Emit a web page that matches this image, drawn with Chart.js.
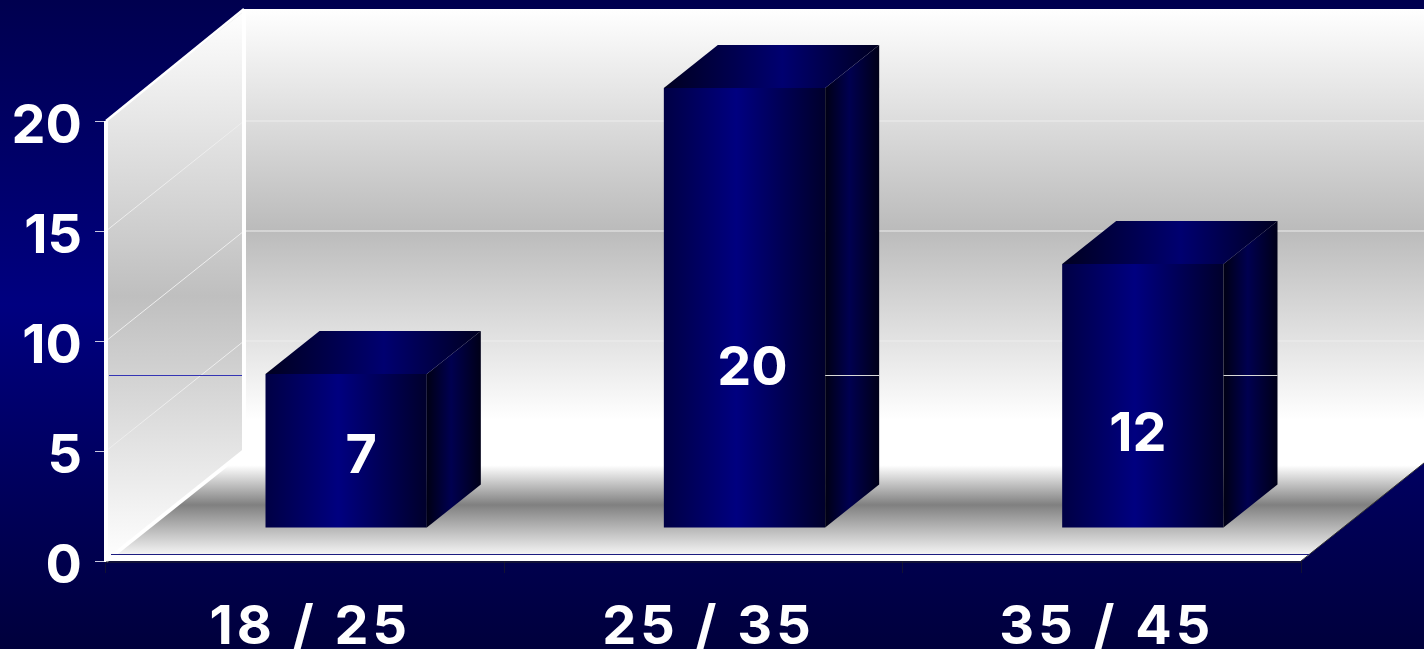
<!DOCTYPE html>
<html>
<head>
<meta charset="utf-8">
<title>Age groups</title>
<script src="https://cdn.jsdelivr.net/npm/chart.js@4"></script>
<style>
  html, body { margin: 0; padding: 0; background: #000050; overflow: hidden; }
  #wrap { width: 1424px; height: 649px; position: relative; }
</style>
</head>
<body>
<div id="wrap"><canvas id="chart" width="1424" height="649"></canvas></div>
<script>
// chart data
var categories = ["18 / 25", "25 / 35", "35 / 45"];
var bar_values = [7, 20, 12];
var y_ticks = [0, 5, 10, 15, 20];
var stray_level = 8.45; // the odd thin line running behind the bars

// 3d look
var wall_dx = 138, wall_dy = 110;  // depth of the box
var bar_dx = 41, bar_dy = 33;      // bars stand further in than the axis
var side_dx = 54, side_dy = 43;    // depth of one bar
var label_dx = [15, 8, -5], label_dy = [6, 61, 39]; // value labels sit off centre
var font_family = "Inter, 'Liberation Sans', sans-serif";
var font_size = 54;

function h_gradient(ctx, x0, x1, stops) {
  var g = ctx.createLinearGradient(x0, 0, x1, 0);
  stops.forEach(function (s) { g.addColorStop(s[0], s[1]); });
  return g;
}
function v_gradient(ctx, y0, y1, stops) {
  var g = ctx.createLinearGradient(0, y0, 0, y1);
  stops.forEach(function (s) { g.addColorStop(s[0], s[1]); });
  return g;
}
function poly(ctx, pts, fill) {
  ctx.beginPath();
  ctx.moveTo(pts[0][0], pts[0][1]);
  for (var i = 1; i < pts.length; i++) ctx.lineTo(pts[i][0], pts[i][1]);
  ctx.closePath();
  ctx.fillStyle = fill;
  ctx.fill();
}
function line(ctx, x0, y0, x1, y1, color, width) {
  ctx.beginPath();
  ctx.moveTo(x0, y0);
  ctx.lineTo(x1, y1);
  ctx.strokeStyle = color;
  ctx.lineWidth = width;
  ctx.stroke();
}

var background_plugin = {
  id: "background",
  beforeDraw: function (chart) {
    var ctx = chart.ctx;
    ctx.save();
    ctx.fillStyle = v_gradient(ctx, 0, chart.height, [[0, "#00004f"], [0.47, "#000080"], [1, "#00003c"]]);
    ctx.fillRect(0, 0, chart.width, chart.height);
    ctx.restore();
  },
  // x labels have z 1, so they are drawn after this: the original text is wider
  afterDatasetsDraw: function (chart) { chart.ctx.letterSpacing = "4px"; },
  afterDraw: function (chart) { chart.ctx.letterSpacing = "0px"; }
};

var box_plugin = {
  id: "box",
  beforeDatasetsDraw: function (chart) {
    var ctx = chart.ctx, y = chart.scales.y, x = chart.scales.x;
    var left = x.left, right = x.right, y0 = y.getPixelForValue(0), y20 = y.getPixelForValue(20);
    var back_left = left + wall_dx, back_top = y20 - wall_dy - 2, back_bottom = y0 - wall_dy;
    var wall_stops = [[0, "#ffffff"], [0.5, "#bbbbbb"], [0.93, "#ffffff"], [1, "#ffffff"]];
    ctx.save();
    // back wall
    ctx.fillStyle = v_gradient(ctx, back_top, back_bottom, wall_stops);
    ctx.fillRect(back_left, back_top, chart.width - back_left, back_bottom - back_top);
    // side wall
    poly(ctx, [[left, y20], [back_left, back_top], [back_left, back_bottom], [left, y0]],
      v_gradient(ctx, back_top, y0, [[0, "#ffffff"], [0.52, "#bfbfbf"], [1, "#ffffff"]]));
    // floor
    poly(ctx, [[left, y0], [back_left, back_bottom], [right + wall_dx, back_bottom], [right, y0]],
      v_gradient(ctx, back_bottom, y0, [[0, "#ffffff"], [0.13, "#ffffff"], [0.49, "#808080"], [0.94, "#f4f4f4"], [1, "#ffffff"]]));
    // grid lines on both walls
    y_ticks.forEach(function (v) {
      if (v === 0) return;
      var p = y.getPixelForValue(v);
      line(ctx, left, p, back_left, p - wall_dy, "#eeeeee", 1);
      if (v < 20) line(ctx, back_left, p - wall_dy, chart.width, p - wall_dy, "#eeeeee", 1.2);
    });
    poly(ctx, [[left + 8, y0 - 6], [right + 8, y0 - 6], [right, y0], [left, y0]], "#ffffff");
    // box edges
    line(ctx, left, y20, back_left, back_top, "#ffffff", 2.5);
    line(ctx, left, y0, back_left, back_bottom, "#ffffff", 4);
    line(ctx, left, y20, left, y0 + 1, "#ffffff", 4);
    line(ctx, back_left, back_top, back_left, back_bottom, "#ffffff", 4);
    line(ctx, left, y0 + 1, right, y0 + 1, "#222222", 1.2);
    line(ctx, right, y0, right + wall_dx, back_bottom, "#333333", 1);
    // thin blue lines
    var stray = Math.round(y.getPixelForValue(stray_level)) + 0.5;
    line(ctx, left + 3, stray, back_left - 2, stray, "#3434b4", 1);
    line(ctx, left + 5, y0 - 6.5, right + 8, y0 - 6.5, "#1c1c80", 1.2);
    ctx.restore();
  }
};

var bars_3d_plugin = {
  id: "bars3d",
  beforeDatasetDraw: function (chart) {
    // every bar is drawn by Chart.js, only moved into the box
    chart.ctx.save();
    chart.ctx.translate(bar_dx, -bar_dy);
  },
  afterDatasetDraw: function (chart, args) {
    var ctx = chart.ctx, meta = args.meta;
    meta.data.forEach(function (bar) {
      var l = bar.x - bar.width / 2, r = bar.x + bar.width / 2, t = bar.y, b = bar.base;
      poly(ctx, [[r, t], [r + side_dx, t - side_dy], [r + side_dx, b - side_dy], [r, b]],
        h_gradient(ctx, r, r + side_dx, [[0, "#000014"], [0.45, "#000050"], [1, "#000018"]]));
      poly(ctx, [[l, t], [l + side_dx, t - side_dy], [r + side_dx, t - side_dy], [r, t]],
        h_gradient(ctx, l, r + side_dx, [[0, "#000020"], [0.55, "#000070"], [1, "#000020"]]));
    });
    var stray = Math.round(chart.scales.y.getPixelForValue(stray_level)) + bar_dy + 0.5;
    meta.data.forEach(function (bar) {
      var r = bar.x + bar.width / 2;
      if (bar.y < stray - 3) line(ctx, r, stray, r + side_dx, stray, "#d8d8d8", 1.2);
    });
    ctx.fillStyle = "#ffffff";
    ctx.font = "700 " + font_size + "px " + font_family;
    ctx.textAlign = "center";
    ctx.textBaseline = "middle";
    meta.data.forEach(function (bar, i) {
      ctx.fillText(String(bar_values[i]), bar.x + label_dx[i], (bar.y + bar.base) / 2 + label_dy[i]);
    });
    ctx.restore();
  }
};

function bar_fill(c) {
  var x = c.chart.scales.x;
  if (!x || !isFinite(x.width) || c.dataIndex === undefined) return "#000080";
  var half = x.width / categories.length * 0.2;
  var mid = x.getPixelForValue(c.dataIndex);
  if (!isFinite(mid)) return "#000080";
  return h_gradient(c.chart.ctx, mid - half, mid + half, [[0, "#000045"], [0.45, "#000080"], [1, "#00002c"]]);
}

var chart = new Chart(document.getElementById("chart").getContext("2d"), {
  type: "bar",
  data: {
    labels: categories,
    datasets: [{
      data: bar_values,
      backgroundColor: bar_fill,
      borderWidth: 0,
      barPercentage: 0.405,
      categoryPercentage: 1,
      clip: false
    }]
  },
  options: {
    responsive: false,
    animation: false,
    layout: { padding: { top: 121, right: 123, left: 0, bottom: 0 } },
    plugins: { legend: { display: false }, title: { display: false }, tooltip: { enabled: false } },
    scales: {
      x: {
        afterFit: function (s) { s.height = 88; },
        border: { display: false },
        grid: { drawOnChartArea: false, drawTicks: true, tickLength: 12, tickColor: "#111133", offset: true },
        ticks: {
          z: 1,
          color: "#ffffff",
          padding: 22,
          labelOffset: 5,
          maxRotation: 0,
          font: { family: font_family, size: font_size, weight: "700" }
        }
      },
      y: {
        min: 0,
        max: 20,
        afterFit: function (s) { s.width = 106; },
        border: { display: false },
        grid: { drawOnChartArea: false, drawTicks: true, tickLength: 11, tickColor: "#c8c8e0" },
        afterBuildTicks: function (s) { s.ticks = y_ticks.map(function (v) { return { value: v }; }); },
        ticks: {
          color: "#ffffff",
          padding: 13,
          labelOffset: 6,
          font: { family: font_family, size: font_size, weight: "700" }
        }
      }
    }
  },
  plugins: [background_plugin, box_plugin, bars_3d_plugin]
});
</script>
</body>
</html>
